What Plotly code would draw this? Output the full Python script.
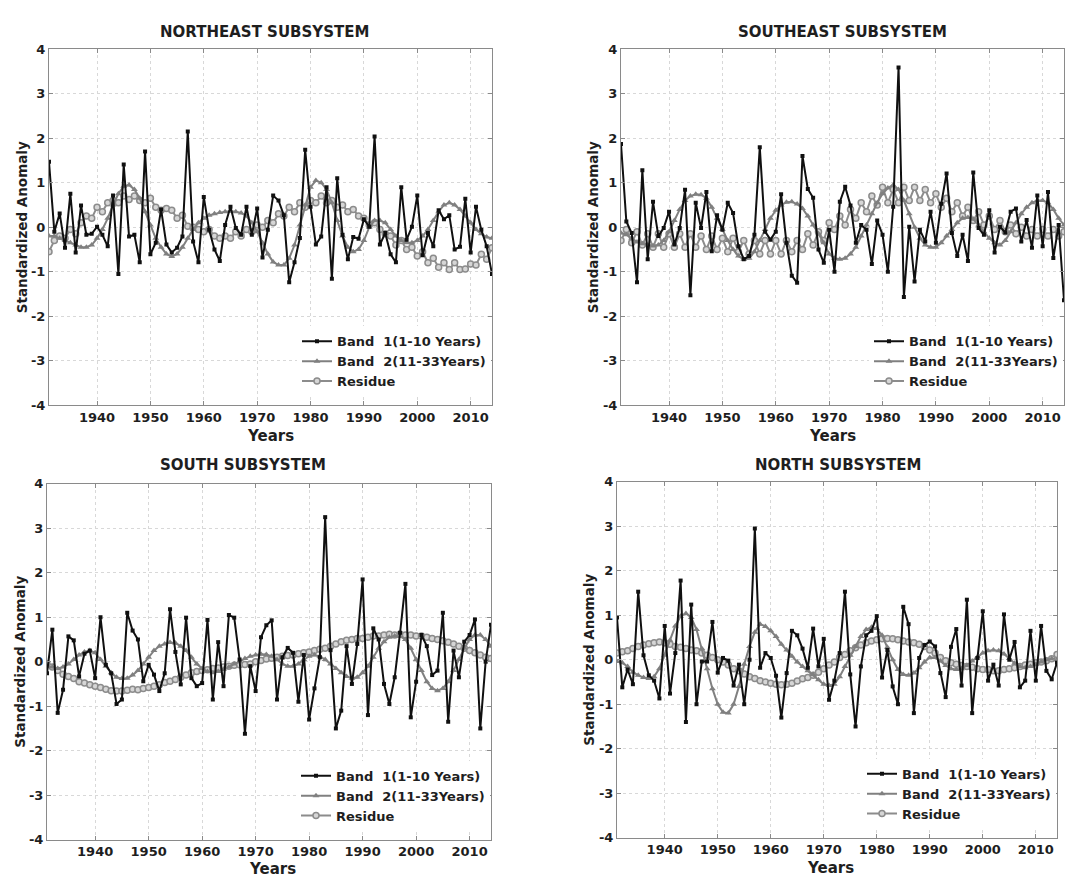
import plotly.graph_objects as go

years = list(range(1931, 2015))
x_tick_vals = [1940, 1950, 1960, 1970, 1980, 1990, 2000, 2010]
y_tick_vals = [-4, -3, -2, -1, 0, 1, 2, 3, 4]
y_tick_text = ["-4", "-3", "-2", "-1", "0", "1", "2", "3", "4"]
legend_names = ["Band  1(1-10 Years)", "Band  2(11-33Years)", "Residue"]

# ---------------- NORTHEAST ----------------
ne_band1 = [1.47, -0.10, 0.31, -0.46, 0.75, -0.57, 0.49, -0.17, -0.15, 0.01,
            -0.17, -0.43, 0.71, -1.05, 1.41, -0.21, -0.17, -0.79, 1.70, -0.61,
            -0.35, 0.40, -0.39, -0.57, -0.46, -0.21, 2.15, -0.32, -0.79, 0.68,
            -0.06, -0.50, -0.76, 0.05, 0.46, -0.02, -0.17, 0.46, -0.17, 0.42,
            -0.68, -0.06, 0.71, 0.60, 0.27, -1.24, -0.79, -0.24, 1.74, 0.46,
            -0.39, -0.21, 0.90, -1.16, 1.10, -0.17, -0.72, -0.22, -0.26, 0.18,
            0.01, 2.04, -0.39, -0.13, -0.61, -0.79, 0.90, -0.28, 0.01, 0.71,
            -0.63, -0.13, -0.43, 0.38, 0.18, 0.27, -0.50, -0.44, 0.64, -0.57,
            0.46, -0.06, -0.43, -1.05]
ne_band2 = [-0.20, -0.20, -0.25, -0.30, -0.35, -0.40, -0.45, -0.45, -0.40, -0.25,
            -0.05, 0.20, 0.50, 0.75, 0.92, 0.95, 0.85, 0.65, 0.35, 0.05,
            -0.25, -0.45, -0.60, -0.66, -0.60, -0.45, -0.25, -0.05, 0.10, 0.20,
            0.27, 0.30, 0.33, 0.35, 0.36, 0.35, 0.32, 0.25, 0.10, -0.10,
            -0.35, -0.60, -0.78, -0.85, -0.85, -0.70, -0.40, 0.05, 0.50, 0.90,
            1.05, 1.00, 0.85, 0.55, 0.15, -0.20, -0.45, -0.55, -0.50, -0.30,
            0.00, 0.15, 0.15, 0.10, -0.05, -0.20, -0.30, -0.35, -0.35, -0.30,
            -0.20, -0.05, 0.15, 0.35, 0.50, 0.55, 0.50, 0.40, 0.25, 0.10,
            -0.05, -0.15, -0.22, -0.25]
ne_residue = [-0.55, -0.30, -0.20, -0.25, -0.05, -0.15, 0.10, 0.25, 0.20, 0.45,
              0.35, 0.55, 0.60, 0.55, 0.70, 0.62, 0.70, 0.60, 0.55, 0.65,
              0.45, 0.38, 0.42, 0.38, 0.20, 0.27, 0.02, 0.00, -0.05, -0.10,
              -0.05, -0.20, -0.25, -0.20, -0.25, -0.10, -0.20, -0.05, -0.10, 0.05,
              0.00, 0.15, 0.10, 0.30, 0.25, 0.45, 0.35, 0.55, 0.45, 0.60,
              0.55, 0.70, 0.55, 0.60, 0.45, 0.50, 0.35, 0.40, 0.25, 0.20,
              0.05, 0.10, -0.05, -0.15, -0.20, -0.40, -0.30, -0.50, -0.45, -0.65,
              -0.55, -0.80, -0.70, -0.90, -0.80, -0.95, -0.80, -0.95, -0.94, -0.83,
              -0.85, -0.61, -0.72, -0.46]

# ---------------- SOUTHEAST ----------------
se_band1 = [1.87, 0.13, -0.13, -1.24, 1.28, -0.72, 0.57, -0.20, -0.02, 0.35,
            -0.39, -0.02, 0.84, -1.53, 0.55, -0.02, 0.79, -0.54, 0.27, -0.06,
            0.55, 0.32, -0.43, -0.72, -0.65, -0.17, 1.80, -0.10, -0.28, -0.10,
            0.74, -0.35, -1.09, -1.25, 1.60, 0.86, 0.66, -0.50, -0.80, -0.06,
            -1.00, 0.57, 0.91, 0.49, -0.35, 0.05, -0.06, -0.83, 0.15, -0.17,
            -1.00, 0.46, 3.59, -1.57, 0.01, -1.22, -0.06, -0.32, 0.35, -0.35,
            0.53, 1.21, -0.13, -0.65, -0.17, -0.76, 1.23, -0.02, -0.17, 0.38,
            -0.57, 0.01, -0.12, 0.35, 0.42, -0.32, 0.16, -0.46, 0.71, -0.43,
            0.79, -0.69, 0.05, -1.64]
se_band2 = [-0.13, -0.17, -0.25, -0.33, -0.37, -0.40, -0.42, -0.40, -0.30, -0.10,
            0.15, 0.40, 0.60, 0.70, 0.74, 0.73, 0.65, 0.45, 0.20, -0.05,
            -0.30, -0.50, -0.65, -0.72, -0.70, -0.55, -0.30, -0.05, 0.20, 0.38,
            0.50, 0.56, 0.57, 0.52, 0.42, 0.25, 0.05, -0.15, -0.35, -0.60,
            -0.70, -0.72, -0.70, -0.60, -0.45, -0.20, 0.05, 0.30, 0.55, 0.75,
            0.88, 0.95, 0.85, 0.60, 0.30, 0.00, -0.25, -0.40, -0.45, -0.45,
            -0.35, -0.20, -0.05, 0.10, 0.20, 0.22, 0.18, 0.05, -0.10, -0.25,
            -0.35, -0.40, -0.30, -0.10, 0.10, 0.30, 0.45, 0.55, 0.60, 0.60,
            0.55, 0.40, 0.20, 0.05]
se_residue = [-0.30, -0.05, -0.35, -0.10, -0.40, -0.15, -0.45, -0.15, -0.45, -0.15,
              -0.45, -0.15, -0.45, -0.15, -0.45, -0.20, -0.50, -0.20, -0.50, -0.25,
              -0.55, -0.25, -0.55, -0.30, -0.60, -0.30, -0.60, -0.30, -0.60, -0.30,
              -0.60, -0.30, -0.55, -0.30, -0.50, -0.15, -0.40, -0.10, -0.30, 0.10,
              -0.05, 0.25, 0.05, 0.40, 0.20, 0.55, 0.35, 0.70, 0.50, 0.90,
              0.55, 0.85, 0.55, 0.90, 0.60, 0.90, 0.60, 0.85, 0.55, 0.75,
              0.45, 0.65, 0.35, 0.55, 0.25, 0.45, 0.15, 0.35, 0.05, 0.25,
              -0.05, 0.15, -0.10, 0.05, -0.15, 0.00, -0.20, -0.05, -0.20, -0.05,
              -0.20, -0.05, -0.20, -0.10]

# ---------------- SOUTH ----------------
s_band1 = [-0.26, 0.72, -1.15, -0.63, 0.57, 0.48, -0.33, 0.18, 0.25, -0.37,
           1.00, -0.07, -0.26, -0.95, -0.85, 1.10, 0.70, 0.50, -0.44, -0.07,
           -0.29, -0.66, -0.26, 1.18, 0.22, -0.51, 0.99, -0.37, -0.55, -0.48,
           0.94, -0.85, 0.44, -0.55, 1.05, 0.99, 0.05, -1.62, -0.10, -0.66,
           0.55, 0.82, 0.93, -0.85, 0.10, 0.31, 0.20, -0.90, 0.15, -1.30,
           -0.60, 0.10, 3.25, 0.26, -1.50, -1.10, 0.35, -0.50, 0.40, 1.85,
           -1.20, 0.75, 0.50, -0.50, -0.95, -0.35, 0.65, 1.75, -1.25, -0.45,
           0.60, 0.35, -0.30, -0.20, 1.10, -1.35, 0.25, -0.35, 0.45, 0.60,
           0.95, -1.50, 0.00, 0.83]
s_band2 = [-0.10, -0.12, -0.15, -0.12, -0.05, 0.05, 0.15, 0.22, 0.25, 0.20,
           0.05, -0.10, -0.25, -0.35, -0.38, -0.37, -0.30, -0.20, -0.05, 0.10,
           0.25, 0.35, 0.40, 0.43, 0.42, 0.35, 0.25, 0.10, -0.05, -0.15,
           -0.22, -0.25, -0.22, -0.17, -0.12, -0.05, 0.00, 0.07, 0.12, 0.15,
           0.17, 0.16, 0.12, 0.05, -0.05, -0.10, -0.10, -0.05, 0.05, 0.12,
           0.15, 0.12, 0.05, -0.05, -0.15, -0.25, -0.33, -0.37, -0.35, -0.25,
           -0.10, 0.10, 0.30, 0.45, 0.55, 0.58, 0.57, 0.50, 0.30, 0.05,
           -0.20, -0.45, -0.60, -0.65, -0.60, -0.45, -0.20, 0.05, 0.30, 0.50,
           0.60, 0.60, 0.50, 0.35]
s_residue = [-0.05, -0.12, -0.20, -0.28, -0.33, -0.38, -0.45, -0.48, -0.52, -0.55,
             -0.58, -0.62, -0.65, -0.66, -0.66, -0.64, -0.62, -0.63, -0.60, -0.58,
             -0.55, -0.52, -0.47, -0.44, -0.40, -0.35, -0.30, -0.25, -0.22, -0.20,
             -0.18, -0.15, -0.14, -0.12, -0.10, -0.08, -0.07, -0.06, -0.05, 0.00,
             0.03, 0.06, 0.08, 0.10, 0.12, 0.14, 0.15, 0.18, 0.20, 0.22,
             0.25, 0.28, 0.30, 0.35, 0.40, 0.45, 0.48, 0.50, 0.52, 0.52,
             0.55, 0.58, 0.58, 0.60, 0.62, 0.60, 0.62, 0.60, 0.60, 0.58,
             0.58, 0.55, 0.52, 0.50, 0.47, 0.44, 0.40, 0.35, 0.30, 0.25,
             0.20, 0.15, 0.10, 0.07]

# ---------------- NORTH ----------------
n_band1 = [0.95, -0.62, -0.22, -0.55, 1.53, 0.10, -0.35, -0.47, -0.87, 0.76,
           -0.76, 0.15, 1.78, -1.40, 1.24, -1.00, -0.04, -0.04, 0.85, -0.29,
           0.04, -0.02, -0.58, -0.11, -1.00, 0.00, 2.95, -0.18, 0.15, 0.04,
           -0.36, -1.30, -0.30, 0.65, 0.55, 0.25, -0.18, 0.70, -0.15, 0.47,
           -0.90, -0.47, 0.15, 1.53, -0.33, -1.50, -0.15, 0.55, 0.65, 0.98,
           -0.40, 0.22, -0.60, -1.00, 1.19, 0.80, -1.20, 0.04, 0.33, 0.41,
           0.30, -0.30, -0.84, 0.29, 0.69, -0.58, 1.35, -1.20, 0.04, 1.09,
           -0.47, -0.11, -0.58, 1.02, 0.00, 0.40, -0.62, -0.47, 0.65, -0.47,
           0.76, -0.25, -0.44, -0.07]
n_band2 = [-0.04, -0.07, -0.15, -0.28, -0.35, -0.40, -0.42, -0.38, -0.20, 0.10,
           0.44, 0.76, 0.98, 1.04, 0.95, 0.68, 0.25, -0.20, -0.65, -1.00,
           -1.18, -1.20, -1.00, -0.60, -0.10, 0.30, 0.62, 0.80, 0.75, 0.65,
           0.52, 0.35, 0.22, 0.08, -0.05, -0.15, -0.25, -0.33, -0.45, -0.55,
           -0.58, -0.55, -0.38, -0.15, 0.10, 0.30, 0.52, 0.68, 0.73, 0.70,
           0.55, 0.28, 0.00, -0.22, -0.33, -0.35, -0.30, -0.18, -0.05, 0.05,
           0.05, -0.03, -0.13, -0.20, -0.22, -0.20, -0.13, -0.03, 0.07, 0.15,
           0.20, 0.22, 0.20, 0.13, 0.03, -0.08, -0.15, -0.18, -0.15, -0.10,
           -0.05, 0.00, 0.02, 0.00]
n_residue = [0.15, 0.18, 0.20, 0.25, 0.30, 0.33, 0.36, 0.38, 0.40, 0.38,
             0.35, 0.30, 0.28, 0.25, 0.22, 0.20, 0.15, 0.10, 0.05, 0.00,
             -0.05, -0.12, -0.20, -0.25, -0.32, -0.38, -0.42, -0.47, -0.50, -0.53,
             -0.55, -0.56, -0.55, -0.53, -0.48, -0.43, -0.40, -0.35, -0.28, -0.20,
             -0.12, -0.05, 0.05, 0.12, 0.20, 0.27, 0.33, 0.38, 0.42, 0.45,
             0.47, 0.48, 0.47, 0.45, 0.42, 0.40, 0.38, 0.35, 0.30, 0.22,
             0.15, 0.05, -0.02, -0.07, -0.10, -0.13, -0.15, -0.17, -0.20, -0.22,
             -0.22, -0.25, -0.25, -0.22, -0.20, -0.18, -0.15, -0.12, -0.10, -0.07,
             -0.05, -0.02, 0.02, 0.12]

W, H = 1065, 885

def px_x(p):
    return p / W

def px_y(p):
    return 1 - p / H

panels = [
    dict(title="NORTHEAST SUBSYSTEM", b1=ne_band1, b2=ne_band2, res=ne_residue,
         box=(49, 492, 43, 405), title_xy=(264, 25), ytitle_x=22, xtitle_xy=(270, 436)),
    dict(title="SOUTHEAST SUBSYSTEM", b1=se_band1, b2=se_band2, res=se_residue,
         box=(621, 1064, 43, 405), title_xy=(843, 25), ytitle_x=593, xtitle_xy=(832, 436)),
    dict(title="SOUTH SUBSYSTEM", b1=s_band1, b2=s_band2, res=s_residue,
         box=(47, 491, 485, 847), title_xy=(243, 466), ytitle_x=20, xtitle_xy=(272, 877)),
    dict(title="NORTH SUBSYSTEM", b1=n_band1, b2=n_band2, res=n_residue,
         box=(617, 1057, 483, 845), title_xy=(838, 466), ytitle_x=589, xtitle_xy=(830, 876)),
]

FONT = "DejaVu Sans"
fig = go.Figure()
layout_updates = {}
annotations = []

for i, p in enumerate(panels):
    k = "" if i == 0 else str(i + 1)
    xa, ya = "x" + k, "y" + k
    lg = "legend" + k
    x0, x1, y0, y1 = p["box"]
    fig.add_trace(go.Scatter(
        x=years, y=p["res"], xaxis=xa, yaxis=ya, legend=lg, name=legend_names[2],
        mode="lines+markers", legendrank=3,
        line=dict(color="#8c8c8c", width=2),
        marker=dict(symbol="circle", size=6, color="#d6d6d6",
                    line=dict(color="#8c8c8c", width=1.5))))
    fig.add_trace(go.Scatter(
        x=years, y=p["b2"], xaxis=xa, yaxis=ya, legend=lg, name=legend_names[1],
        mode="lines+markers", legendrank=2,
        line=dict(color="#808080", width=2),
        marker=dict(symbol="triangle-up", size=6, color="#808080")))
    fig.add_trace(go.Scatter(
        x=years, y=p["b1"], xaxis=xa, yaxis=ya, legend=lg, name=legend_names[0],
        mode="lines+markers", legendrank=1,
        line=dict(color="#101010", width=2),
        marker=dict(symbol="square", size=4, color="#101010")))

    axis_common = dict(showline=True, linecolor="#8a8a8a", linewidth=1, mirror="ticks",
                       ticks="inside", ticklen=4, tickcolor="#8a8a8a",
                       showgrid=True, gridcolor="#d8d8d8", griddash="dot", gridwidth=1,
                       zeroline=False,
                       tickfont=dict(family=FONT, size=13, color="#1e1e1e", weight="bold"))
    layout_updates["xaxis" + k] = dict(axis_common, domain=[px_x(x0), px_x(x1)],
                                       range=[1931, 2014], tickvals=x_tick_vals,
                                       anchor=ya)
    layout_updates["yaxis" + k] = dict(axis_common, domain=[px_y(y1), px_y(y0)],
                                       range=[-4, 4], tickvals=y_tick_vals,
                                       ticktext=y_tick_text, anchor=xa)
    layout_updates[lg] = dict(x=px_x(x1 - 1), y=px_y(y1 - 9), xanchor="right", yanchor="bottom",
                              bgcolor="rgba(255,255,255,1)", borderwidth=0,
                              font=dict(family=FONT, size=13, color="#1e1e1e", weight="bold"),
                              tracegroupgap=0, itemwidth=30)

    annotations.append(dict(text=p["title"], x=px_x(p["title_xy"][0]), y=px_y(p["title_xy"][1]),
                            xref="paper", yref="paper", showarrow=False,
                            xanchor="center", yanchor="middle",
                            font=dict(family=FONT, size=15, color="#1e1e1e", weight="bold")))
    annotations.append(dict(text="Standardized Anomaly", x=px_x(p["ytitle_x"]),
                            y=px_y((y0 + y1) / 2), xref="paper", yref="paper",
                            showarrow=False, textangle=-90, xanchor="center", yanchor="middle",
                            font=dict(family=FONT, size=13.5, color="#1e1e1e", weight="bold")))
    annotations.append(dict(text="Years", x=px_x(p["xtitle_xy"][0]), y=px_y(p["xtitle_xy"][1]),
                            xref="paper", yref="paper", showarrow=False,
                            xanchor="center", yanchor="middle",
                            font=dict(family=FONT, size=15, color="#1e1e1e", weight="bold")))

fig.update_layout(width=W, height=H, margin=dict(l=0, r=0, t=0, b=0),
                  paper_bgcolor="white", plot_bgcolor="white",
                  annotations=annotations, **layout_updates)

fig.write_html("out.html",
               config={"displayModeBar": False},
               post_script="document.body.style.margin='0';"
                           "document.body.style.overflow='hidden';"
                           "document.documentElement.style.overflow='hidden';")
